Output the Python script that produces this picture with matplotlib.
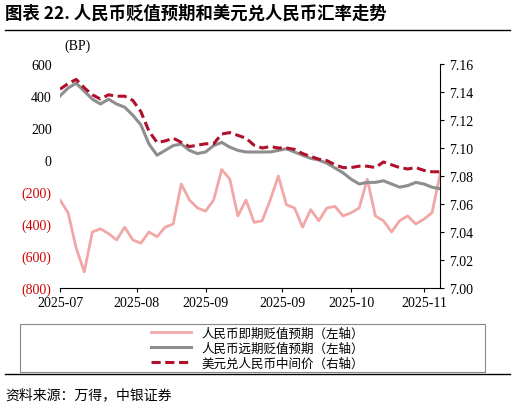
import matplotlib
matplotlib.use("Agg")
import matplotlib.pyplot as plt
import numpy as np
from matplotlib.lines import Line2D
from matplotlib.patches import Rectangle

plt.rcParams['font.family'] = ['Noto Sans CJK SC', 'DejaVu Sans']

# approx. every other trading day, 2025-07-01 .. 2025-11-10
spot = [-250, -330, -550, -700, -450, -430, -460, -500, -420, -500, -520, -450,
        -480, -420, -400, -150, -250, -300, -320, -250, -60, -120, -350, -250,
        -390, -380, -250, -100, -280, -300, -420, -310, -380, -300, -290, -350,
        -330, -300, -120, -350, -380, -450, -380, -350, -400, -370, -330, -90]
fwd = [400, 450, 480, 430, 380, 350, 380, 350, 330, 280, 220, 100, 30, 60, 90, 100,
       60, 40, 50, 90, 110, 80, 60, 50, 50, 50, 50, 60, 70, 50, 30, 10, 0, -20,
       -50, -80, -120, -150, -140, -140, -130, -150, -170, -160, -140, -150, -170, -180]
mid = [7.142, 7.146, 7.149, 7.143, 7.138, 7.135, 7.138, 7.137, 7.137, 7.134, 7.126, 7.112,
       7.104, 7.105, 7.107, 7.104, 7.101, 7.102, 7.103, 7.103, 7.110, 7.111, 7.109, 7.107,
       7.102, 7.100, 7.101, 7.100, 7.100, 7.099, 7.096, 7.094, 7.092, 7.091, 7.088, 7.086,
       7.086, 7.087, 7.087, 7.086, 7.090, 7.088, 7.086, 7.085, 7.086, 7.084, 7.083, 7.083]
tick_pos = [0, 9.5, 18, 27.5, 36, 45]
tick_lbl = ["2025-07", "2025-08", "2025-09", "2025-09", "2025-10", "2025-11"]

PINK, GRAY, RED = "#f2a7a7", "#8e8e8e", "#b0102a"
serif = "Liberation Serif"

fig = plt.figure(figsize=(5.15, 4.14), dpi=100)
ax = fig.add_axes([0.1165, 0.302, 0.738, 0.541])
x = np.arange(len(spot))
ax.plot(x, spot, color=PINK, lw=2)
ax.plot(x, fwd, color=GRAY, lw=2.2)
ax.set_ylim(-800, 600)
ax.set_yticks(range(-800, 601, 200))
ax.set_yticklabels([f"({-v})" if v < 0 else str(v) for v in range(-800, 601, 200)],
                   family=serif, fontsize=10)
for t, v in zip(ax.get_yticklabels(), range(-800, 601, 200)):
    if v < 0:
        t.set_color("#d00000")
ax.set_xlim(0, len(spot) - 1)
ax.set_xticks(tick_pos)
ax.set_xticklabels(tick_lbl, family=serif, fontsize=10)
ax.tick_params(axis="y", length=0, pad=6)
ax.tick_params(axis="x", length=3, pad=3)

ax2 = ax.twinx()
ax2.plot(x, mid, color=RED, lw=2.2, ls=(0, (3, 1.5)))
ax2.set_ylim(7.00, 7.16)
ax2.set_yticks(np.arange(7.00, 7.161, 0.02))
ax2.set_yticklabels([f"{v:.2f}" for v in np.arange(7.00, 7.161, 0.02)], family=serif, fontsize=10)
ax2.tick_params(length=3)
for a in (ax, ax2):
    a.spines['top'].set_visible(False)
ax.spines['right'].set_visible(False)
ax2.spines['left'].set_visible(False)
ax2.spines['bottom'].set_visible(False)
ax.spines['left'].set_visible(False)

fig.text(0.125, 0.88, "(BP)", family=serif, fontsize=10)
fig.text(0.01, 0.955, "图表 22. 人民币贬值预期和美元兑人民币汇率走势", fontsize=12.5, fontweight="bold")
fig.add_artist(Line2D([0.01, 0.99], [0.925, 0.925], color="black", lw=1))
fig.add_artist(Line2D([0.01, 0.99], [0.095, 0.095], color="black", lw=1))
fig.text(0.01, 0.035, "资料来源：万得，中银证券", fontsize=10, style="italic")

fig.add_artist(Rectangle((0.039, 0.1), 0.903, 0.115, transform=fig.transFigure,
                         fill=False, edgecolor="#888888", lw=0.8))
handles = [Line2D([], [], color=PINK, lw=2), Line2D([], [], color=GRAY, lw=2.2),
           Line2D([], [], color=RED, lw=2.2, ls=(0, (3, 1.5)))]
labels = ["人民币即期贬值预期（左轴）", "人民币远期贬值预期（左轴）", "美元兑人民币中间价（右轴）"]
fig.legend(handles, labels, loc="center", bbox_to_anchor=(0.5, 0.157), ncol=1,
           fontsize=9, frameon=False, handlelength=3.2, labelspacing=0.15, borderpad=0.2)
fig.savefig("out.png", dpi=100)
